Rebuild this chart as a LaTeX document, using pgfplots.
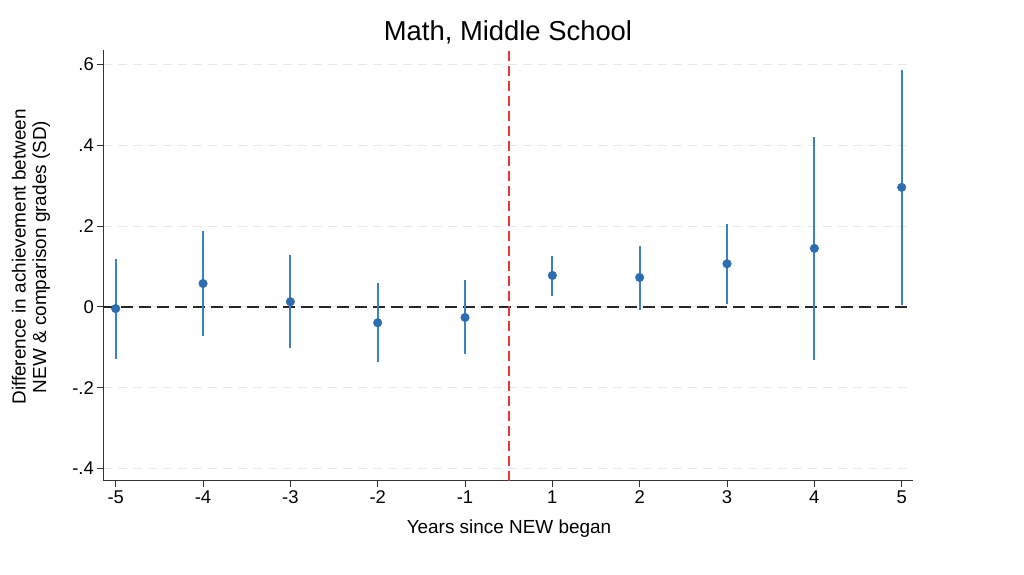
\documentclass[border=0pt]{standalone}
\usepackage{fontspec}
\setmainfont{Liberation Sans}
\usepackage{pgfplots}
\pgfplotsset{compat=1.18}
\usepackage{pgfplotstable}
\definecolor{sblue}{HTML}{3F80C2}
\definecolor{sblued}{HTML}{2C6CB0}
\definecolor{gridc}{HTML}{E8E8E8}
\definecolor{axc}{HTML}{333333}
\definecolor{redl}{HTML}{F0362E}
\pgfplotstableread{
x y ep em
0 -0.004 0.123 0.125
1 0.058 0.131 0.131
2 0.013 0.115 0.114
3 -0.039 0.098 0.097
4 -0.026 0.092 0.090
5 0.078 0.049 0.052
6 0.073 0.078 0.080
7 0.107 0.099 0.099
8 0.145 0.276 0.275
9 0.296 0.291 0.291
}\data
\begin{document}
\begin{tikzpicture}
\useasboundingbox (0,0) rectangle (1024bp,575bp);
\begin{axis}[
  at={(103.3bp,94bp)}, anchor=south west,
  scale only axis, width=810bp, height=431bp,
  xmin=-0.142, xmax=9.133, ymin=-0.4307, ymax=0.636,
  axis x line*=bottom, axis y line*=left,
  axis line style={line width=1bp, axc},
  tick align=outside, major tick length=6bp,
  tick style={line width=1bp, axc},
  xtick={0,...,9}, xticklabels={-5,-4,-3,-2,-1,1,2,3,4,5},
  ytick={-0.4,-0.2,0,0.2,0.4,0.6}, yticklabels={-.4,-.2,0,.2,.4,.6},
  ymajorgrids, grid style={gridc, line width=1bp, dash pattern=on 9bp off 6bp},
  tick label style={font=\fontsize{18.5}{21}\selectfont},
  /pgf/number format/assume math mode=true,
  clip=false,
]
\addplot[black!85, line width=2bp, dash pattern=on 12bp off 6bp, forget plot] coordinates {(-0.142,0) (9.133,0)};
\addplot[redl, line width=1.8bp, dash pattern=on 10bp off 5bp, forget plot] coordinates {(4.5,-0.4307) (4.5,0.636)};
\addplot[draw=none, mark=none, forget plot,
  error bars/.cd, y dir=both, y explicit, error mark=none,
  error bar style={line width=2bp, sblue}]
  table[x=x, y=y, y error plus=ep, y error minus=em] {\data};
\addplot[only marks, mark=*, mark size=4.3bp, mark options={fill=sblued, draw=sblued}]
  table[x=x, y=y] {\data};
\end{axis}
\node[font=\fontsize{27.5}{30}\selectfont] at (508bp,543bp) {Math, Middle School};
\node[font=\fontsize{19}{21}\selectfont] at (509bp,46bp) {Years since NEW began};
\node[rotate=90, align=center, font=\fontsize{19}{20.5}\selectfont] at (31bp,318bp) {Difference in achievement between\\NEW \& comparison grades (SD)};
\end{tikzpicture}
\end{document}
